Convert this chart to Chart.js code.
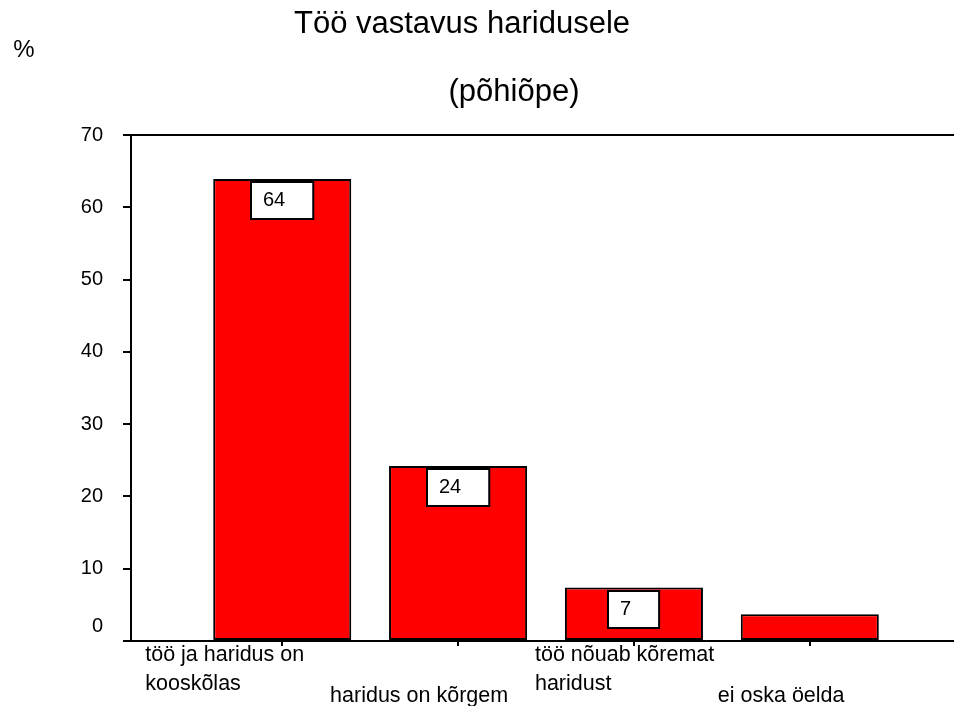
<!DOCTYPE html>
<html>
<head>
<meta charset="utf-8">
<script src="https://cdn.jsdelivr.net/npm/chart.js@4"></script>
<style>
  body { margin: 0; background: #fff; }
  #wrap { width: 954px; height: 706px; position: relative; }
</style>
</head>
<body>
<div id="wrap"><canvas id="grafik"></canvas></div>
<script>
// andmed
const kategooriad = [
    ["töö ja haridus on", "kooskõlas"],
    ["haridus on kõrgem"],
    ["töö nõuab kõremat", "haridust"],
    ["ei oska öelda"]
];
const protsendid = [63.9, 24.2, 7.4, 3.7];
const vaartuseSildid = ["64", "24", "7", null];
const yTikid = [0, 10, 20, 30, 40, 50, 60, 70];
const pealkiri = "Töö vastavus haridusele";
const alapealkiri = "(põhiõpe)";
const yTelg = "%";

const FONT = "'Liberation Sans', Arial, sans-serif";

const joonistaja = {
    id: 'joonistaja',
    afterDraw(chart) {
        const ctx = chart.ctx;
        const area = chart.chartArea;
        const xs = chart.scales.x;
        const ys = chart.scales.y;
        ctx.save();

        // raami ülemine joon
        ctx.strokeStyle = '#000';
        ctx.lineWidth = 2;
        ctx.beginPath();
        ctx.moveTo(area.left, area.top);
        ctx.lineTo(area.right, area.top);
        ctx.stroke();

        // pealkirjad
        ctx.fillStyle = '#000';
        ctx.textAlign = 'center';
        ctx.textBaseline = 'alphabetic';
        ctx.font = '31px ' + FONT;
        ctx.fillText(pealkiri, 462, 33);
        ctx.fillText(alapealkiri, 514, 101);
        ctx.font = '24px ' + FONT;
        ctx.fillText(yTelg, 24, 57);

        // nulli silt veidi kõrgemal
        ctx.font = '20px ' + FONT;
        ctx.textAlign = 'right';
        ctx.textBaseline = 'middle';
        ctx.fillText('0', 103, ys.getPixelForValue(0) - 15);

        // x-telje sildid astmeliselt
        const nihked = [-137, -128, -99, -92];
        ctx.font = '21.5px ' + FONT;
        ctx.textAlign = 'left';
        ctx.textBaseline = 'alphabetic';
        kategooriad.forEach((read, i) => {
            const x = xs.getPixelForValue(i) + nihked[i];
            const base = area.bottom + (i % 2 === 0 ? 20 : 61);
            read.forEach((rida, j) => {
                ctx.fillText(rida, x, base + j * 29);
            });
        });

        // väärtuste kastid
        ctx.font = '20px ' + FONT;
        const meta = chart.getDatasetMeta(0);
        meta.data.forEach((bar, i) => {
            const silt = vaartuseSildid[i];
            if (!silt) return;
            const w = ctx.measureText(silt).width + 40;
            const h = 37;
            const left = Math.round(bar.x - w / 2);
            const top = Math.round(bar.y + 3);
            ctx.fillStyle = '#fff';
            ctx.fillRect(left, top, w, h);
            ctx.strokeStyle = '#000';
            ctx.lineWidth = 2;
            ctx.strokeRect(left, top, w, h);
            ctx.fillStyle = '#000';
            ctx.textBaseline = 'top';
            ctx.fillText(silt, left + 12, top + 8);
        });
        ctx.restore();
    }
};

const ctx = document.getElementById('grafik').getContext('2d');
new Chart(ctx, {
    type: 'bar',
    data: {
        datasets: [{
            data: protsendid.map((v, i) => ({ x: i, y: v })),
            backgroundColor: '#ff0000',
            borderColor: '#000000',
            borderWidth: 2,
            borderSkipped: false,
            barPercentage: 0.785,
            categoryPercentage: 1
        }]
    },
    options: {
        responsive: true,
        maintainAspectRatio: false,
        animation: false,
        layout: { padding: { top: 135, left: 0, right: 0, bottom: 0 } },
        plugins: {
            legend: { display: false },
            tooltip: { enabled: false }
        },
        scales: {
            x: {
                type: 'linear',
                offset: false,
                min: -0.86,
                max: 3.82,
                afterBuildTicks: scale => {
                    scale.ticks = kategooriad.map((k, i) => ({ value: i }));
                },
                afterFit: scale => { scale.height = 65; },
                ticks: { callback: () => '', font: { size: 20, family: FONT } },
                grid: { offset: false, drawOnChartArea: false, drawTicks: true, tickLength: 5, color: '#000', lineWidth: 2 },
                border: { display: true, color: '#000', width: 2 }
            },
            y: {
                min: 0,
                max: 70,
                afterBuildTicks: scale => {
                    scale.ticks = yTikid.map(v => ({ value: v }));
                },
                afterFit: scale => { scale.width = 131; },
                ticks: {
                    padding: 20,
                    color: '#000',
                    font: { size: 20, family: FONT },
                    callback: v => v === 0 ? '' : v
                },
                grid: { drawOnChartArea: false, drawTicks: true, tickLength: 8, color: '#000', lineWidth: 2 },
                border: { display: true, color: '#000', width: 2 }
            }
        }
    },
    plugins: [joonistaja]
});
</script>
</body>
</html>
